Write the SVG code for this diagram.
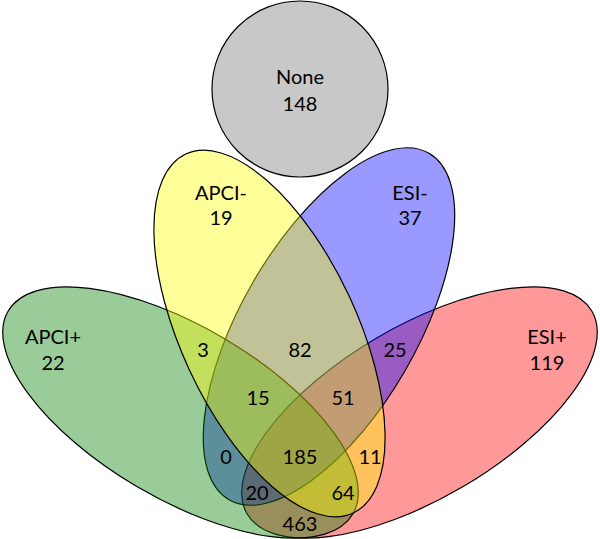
<svg xmlns="http://www.w3.org/2000/svg" width="600" height="539" viewBox="0 0 600 539">
<style>
.set{stroke:#000;stroke-width:1.2;fill-opacity:0.4}
text{font-family:Lato,"Liberation Sans",sans-serif;font-size:20px;fill:#000;text-anchor:middle}
</style>
<rect width="600" height="539" fill="#fff"/>
<g id="none">
<circle cx="300" cy="89" r="88" fill="#C8C8C8" stroke="#000" stroke-width="1.2"/>
<text x="300" y="84">None</text>
<text x="300" y="111">148</text>
</g>
<g id="esi-plus">
<ellipse class="set" cx="419.5" cy="412.5" rx="200" ry="86" transform="rotate(-30.5 419.5 412.5)" fill="#FF0000"/>
<text x="547" y="344">ESI+</text>
<text x="547" y="370">119</text>
</g>
<g id="esi-minus">
<ellipse class="set" cx="329" cy="326.5" rx="200" ry="88" transform="rotate(-60 329 326.5)" fill="#0000FF"/>
<text x="410" y="200">ESI-</text>
<text x="410" y="225">37</text>
</g>
<g id="apci-plus">
<ellipse class="set" cx="180.5" cy="412.5" rx="200" ry="86" transform="rotate(30.5 180.5 412.5)" fill="#008000"/>
<text x="53" y="344">APCI+</text>
<text x="53" y="370">22</text>
</g>
<g id="apci-minus">
<ellipse class="set" cx="269.5" cy="333.5" rx="198" ry="88" transform="rotate(65 269.5 333.5)" fill="#FFFF00"/>
<text x="221" y="200">APCI-</text>
<text x="221" y="225">19</text>
</g>
<g id="regions">
<text x="203" y="357">3</text>
<text x="300" y="357">82</text>
<text x="395" y="357">25</text>
<text x="258" y="405">15</text>
<text x="343" y="405">51</text>
<text x="226" y="464">0</text>
<text x="300" y="464">185</text>
<text x="370" y="464">11</text>
<text x="257" y="500">20</text>
<text x="343" y="500">64</text>
<text x="300" y="531">463</text>
</g>
<g id="connectors"/>
</svg>
